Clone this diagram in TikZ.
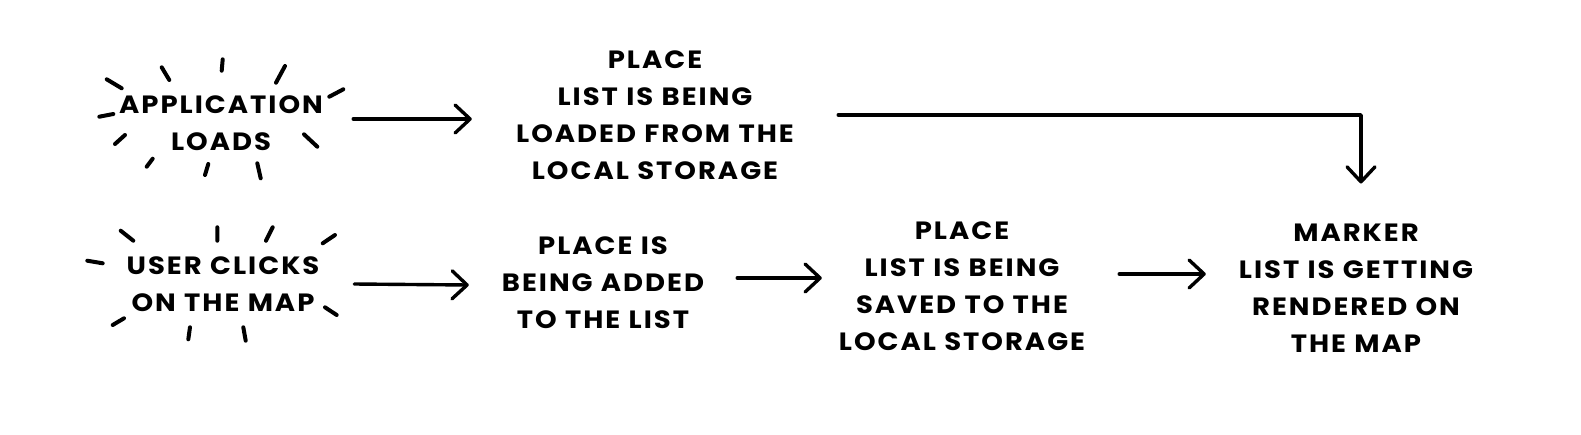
\documentclass[tikz,border=0pt]{standalone}
\usepackage{fontspec}
\setmainfont{Poppins}
\usetikzlibrary{arrows.meta}
\begin{document}
\begin{tikzpicture}[x=1pt,y=-1pt,
  lbl/.style={inner sep=0pt, align=center, font=\fontsize{25}{37}\selectfont\bfseries\addfontfeature{LetterSpace=8,FakeStretch=1.1}},
  arr/.style={line width=3.4pt, line cap=round, line join=round,
    -{Straight Barb[length=15pt,width=28pt,line cap=round,line join=round]}},
  ray/.style={line width=4pt, line cap=round}]
\useasboundingbox (0,0) rectangle (1581,434);
% nodes
\node[lbl, text width=264pt] (app) at (221,123) {APPLICATION\\LOADS};
\node[lbl, text width=366pt] (pl1) at (655,115) {PLACE\\LIST IS BEING\\LOADED FROM THE\\LOCAL STORAGE};
\node[lbl, text width=264pt] (usr) at (223,284) {USER CLICKS\\ON THE MAP};
\node[lbl, text width=268pt] (add) at (603,283) {PLACE IS\\BEING ADDED\\TO THE LIST};
\node[lbl, text width=280pt] (sav) at (962,286) {PLACE\\LIST IS BEING\\SAVED TO THE\\LOCAL STORAGE};
\node[lbl, text width=300pt] (mk) at (1356,288) {MARKER\\LIST IS GETTING\\RENDERED ON\\THE MAP};
% connectors
\draw[arr] ([yshift=4pt]app.east) -- ([yshift=4pt]app.east -| pl1.west);
\draw[arr] (pl1.east) -| ([xshift=5pt,yshift=40pt]mk.north);
\draw[arr] ([xshift=-1pt]usr.east) -- ([yshift=-1pt]usr.east -| add.west);
\draw[arr] ([yshift=5pt]add.east) -- ([yshift=5pt]add.east -| sav.west);
\draw[arr] ([xshift=17pt,yshift=12pt]sav.east) -- ([yshift=12pt]sav.east -| mk.west);
% bursts
\draw[ray] (106.7,79.3)--(121.7,88.3) (161.7,67.3)--(169.3,80) (222.7,59.3)--(221.7,70.7)
  (285,66)--(276,82.7) (343.3,89.3)--(329.3,96.7) (99.3,116.7)--(113.3,114)
  (125,135)--(115,144) (304,134.3)--(317.3,146.7) (152.7,158.7)--(146.7,166.7)
  (208.3,164)--(205,175) (257.3,163.3)--(260.7,178.3);
\draw[ray] (120.7,230.7)--(133.3,240.7) (217.3,227.3)--(217.3,240.7) (272.7,227.3)--(266,240.7)
  (335,235)--(322.7,243.3) (87.3,260.7)--(102.7,263.3) (325,307.3)--(336.7,315)
  (124,318.3)--(112.7,325) (190,327.3)--(188.3,339.3) (243.3,327.3)--(245.7,340.7);
\end{tikzpicture}
\end{document}
